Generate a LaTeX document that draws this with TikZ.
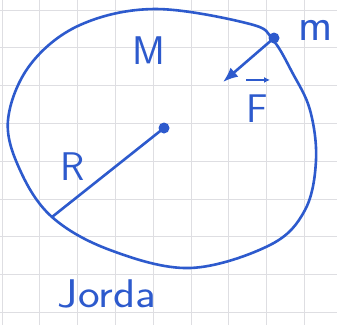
\documentclass[tikz,border=0pt]{standalone}
\usetikzlibrary{arrows.meta}
\definecolor{ink}{RGB}{45,90,205}
\definecolor{gridc}{RGB}{222,222,226}
\begin{document}
\begin{tikzpicture}[x=1pt,y=-1pt,
  pen/.style={draw=ink,line width=2.6pt,line cap=round,line join=round},
  lbl/.style={text=ink,font=\sffamily\fontsize{40}{40}\selectfont,inner sep=0pt},
  dotnode/.style={circle,fill=ink,inner sep=0pt,minimum size=11pt}]
\useasboundingbox (0,0) rectangle (337,325);
\fill[white] (0,0) rectangle (337,325);
% grid paper
\foreach \i in {0,...,8} {
  \draw[gridc,line width=1pt] ({2+37.8*\i},0) -- ({2+37.8*\i},325);
  \draw[gridc,line width=1pt] (0,{10+37.8*\i}) -- (337,{10+37.8*\i});
}
% the Earth
\draw[pen] plot[smooth cycle,tension=0.6] coordinates {
  (155,9) (250,24) (273,40) (292,72) (310,110) (316,160) (305,210)
  (270,245) (190,268) (110,250) (52,217) (20,170) (8,120) (30,65) (80,25)};
\node[dotnode] (c) at (164,128) {};
\node[dotnode] (m) at (274,38) {};
\coordinate (rim) at (52,217);
\coordinate (tip) at (223,82);
\draw[pen] (c.center) -- (rim);
\draw[pen,-{Latex[length=15pt,width=12pt]}] (m.center) -- (tip);
% labels
\node[lbl] (M) at (149,51) {M};
\node[lbl,font=\sffamily\fontsize{46}{46}\selectfont] (ml) at (316,30) {m};
\node[lbl] (R) at (73,167) {R};
\node[lbl] (F) at (257,109) {F};
\draw[ink,line width=1.8pt,-{Latex[length=6pt,width=6pt]}] ([xshift=-11pt,yshift=15pt]F.north) -- ++(24,0);
\node[lbl,xscale=1.15] (J) at (107,294) {Jorda};
\end{tikzpicture}
\end{document}
